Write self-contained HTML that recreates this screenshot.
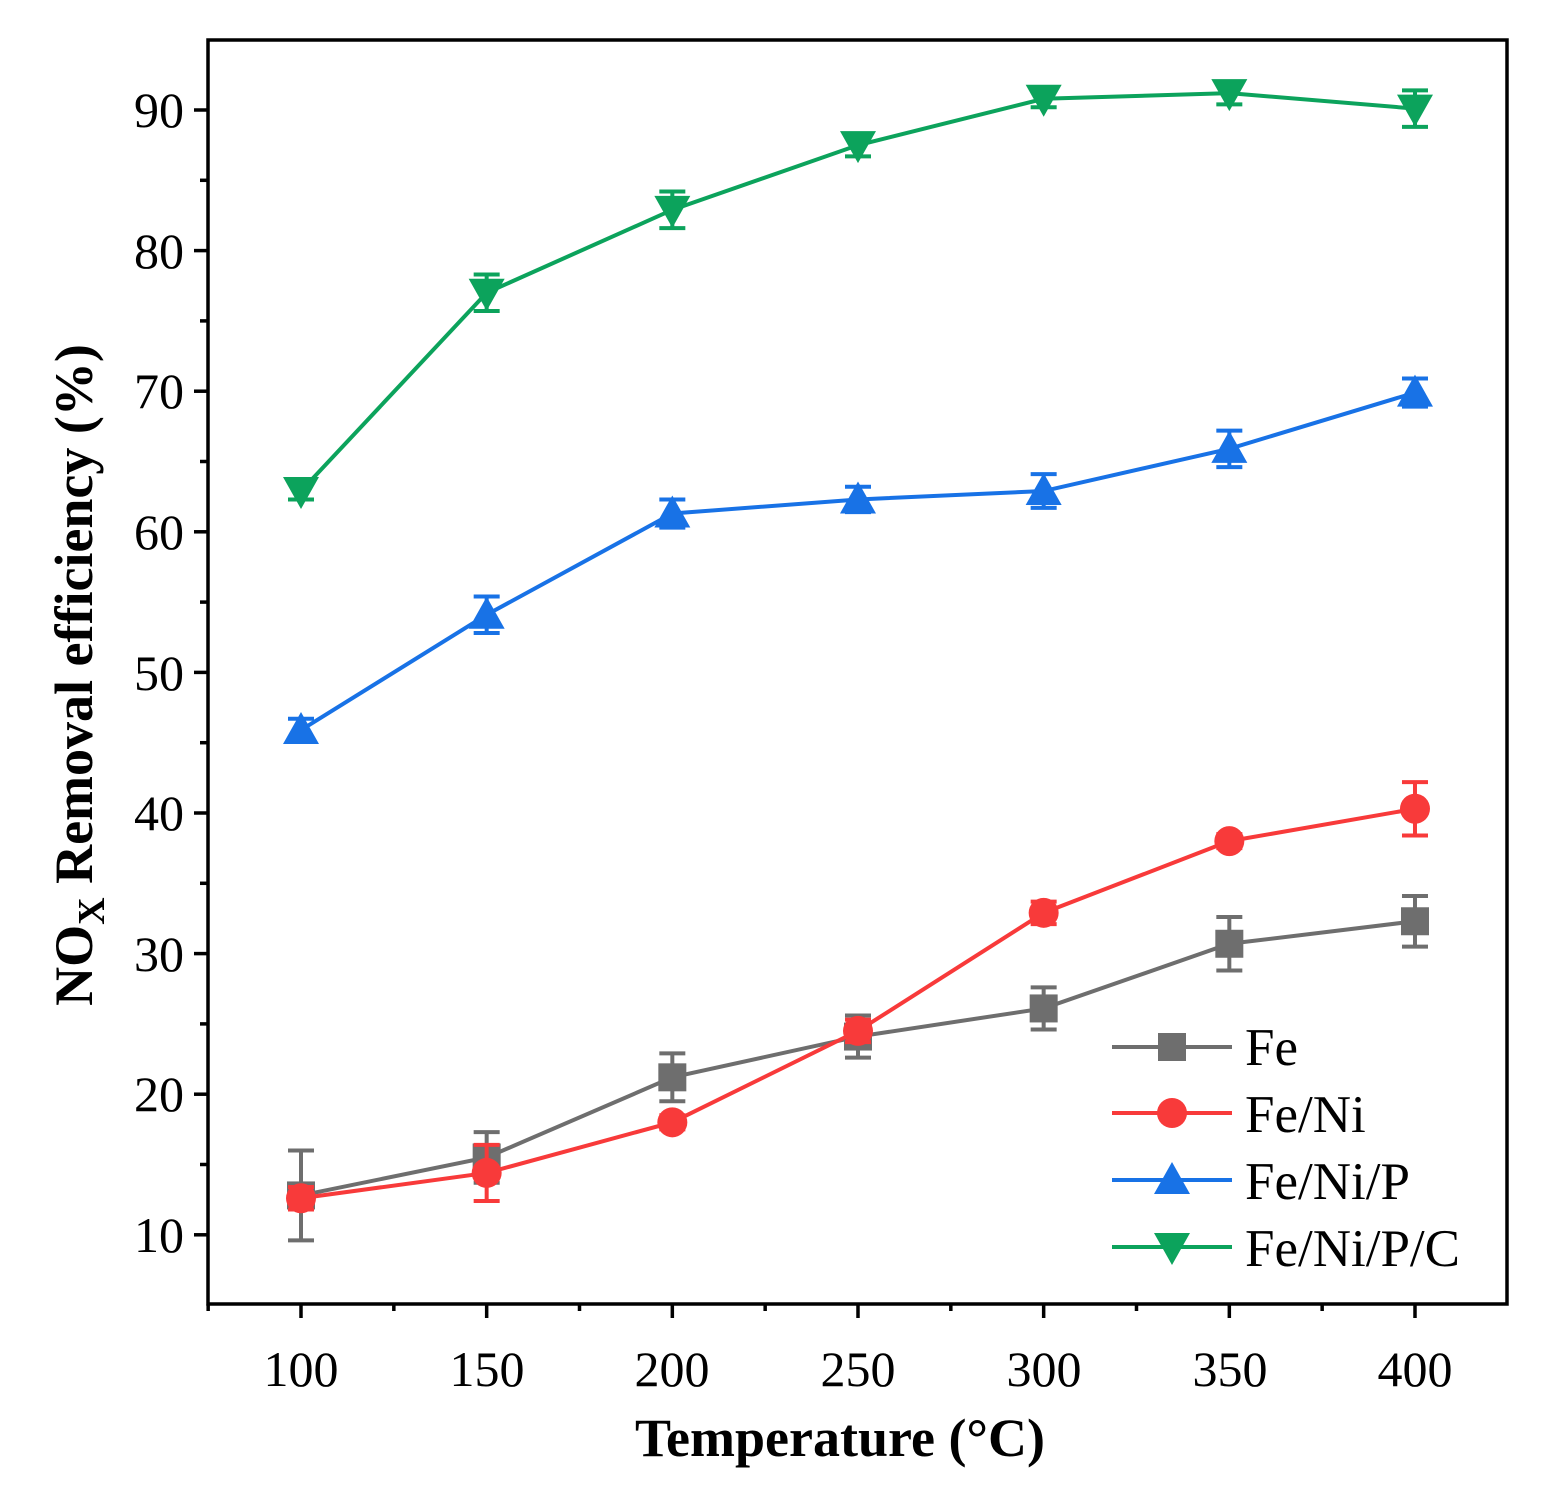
<!DOCTYPE html>
<html><head><meta charset="utf-8"><style>
html,body{margin:0;padding:0;background:#fff;}
svg{display:block;font-family:"Liberation Serif",serif;}
</style></head><body>
<svg id="s" width="1546" height="1501" viewBox="0 0 1546 1501" xmlns="http://www.w3.org/2000/svg">
<rect x="0" y="0" width="1546" height="1501" fill="#fff"/>
<g id="ticks" stroke="#000" stroke-width="3.5"></g>
<g font-size="50" fill="#000">
<text x="184" y="127" text-anchor="end">90</text>
<text x="184" y="268" text-anchor="end">80</text>
<text x="184" y="408" text-anchor="end">70</text>
<text x="184" y="549" text-anchor="end">60</text>
<text x="184" y="690" text-anchor="end">50</text>
<text x="184" y="830" text-anchor="end">40</text>
<text x="184" y="971" text-anchor="end">30</text>
<text x="184" y="1111" text-anchor="end">20</text>
<text x="184" y="1252" text-anchor="end">10</text>
<text x="301" y="1386" text-anchor="middle">100</text>
<text x="487" y="1386" text-anchor="middle">150</text>
<text x="672" y="1386" text-anchor="middle">200</text>
<text x="858" y="1386" text-anchor="middle">250</text>
<text x="1044" y="1386" text-anchor="middle">300</text>
<text x="1230" y="1386" text-anchor="middle">350</text>
<text x="1415" y="1386" text-anchor="middle">400</text>
</g>
<text x="840" y="1456" text-anchor="middle" font-size="54" font-weight="bold">Temperature (°C)</text>
<text transform="translate(92,675) rotate(-90)" text-anchor="middle" font-size="54" font-weight="bold">NO<tspan font-size="38" dy="12">X</tspan><tspan dy="-12"> Removal efficiency (%)</tspan></text>
<g id="data"></g>
<g font-size="53" fill="#000">
<text x="1245" y="1065">Fe</text>
<text x="1245" y="1132">Fe/Ni</text>
<text x="1245" y="1199">Fe/Ni/P</text>
<text x="1245" y="1266">Fe/Ni/P/C</text>
</g>
<rect x="208" y="40" width="1299" height="1264" fill="none" stroke="#000" stroke-width="3.5"/>
</svg>
<script>
var NS="http://www.w3.org/2000/svg";
function el(p,t,a){var e=document.createElementNS(NS,t);for(var k in a)e.setAttribute(k,a[k]);p.appendChild(e);return e;}
var X=function(t){return 301+(t-100)*3.7133;}, Y=function(v){return 110+(90-v)*14.06;};
var tk=document.getElementById("ticks");
for(var v=10;v<=90;v+=5){var y=Y(v);el(tk,"line",{x1:v%10==0?194:200,x2:208,y1:y,y2:y});}
for(var t=75;t<=425;t+=25){var x=X(t);if(x<208||x>1507)continue;el(tk,"line",{x1:x,x2:x,y1:1304,y2:t%50==0?1318:1311});}
var S=[
{c:"#6e6e6e",m:"sq",d:[[12.8,3.2],[15.5,1.8],[21.2,1.7],[24.1,1.5],[26.1,1.5],[30.7,1.9],[32.3,1.8]]},
{c:"#f83a3a",m:"ci",d:[[12.6,0.8],[14.4,2],[18,0.5],[24.5,0.8],[32.9,0.8],[38,0.5],[40.3,1.9]]},
{c:"#1872e6",m:"up",d:[[45.9,0.8],[54.1,1.3],[61.3,1],[62.3,0.9],[62.9,1.2],[65.9,1.3],[69.9,1]]},
{c:"#0ca35c",m:"dn",d:[[62.9,0.6],[77,1.3],[82.9,1.3],[87.5,0.8],[90.8,0.6],[91.2,0.8],[90.1,1.3]]}];
var g=document.getElementById("data");
function mk(m,x,y,c){
 if(m=="sq")el(g,"rect",{x:x-14,y:y-14,width:28,height:28,fill:c});
 else if(m=="ci")el(g,"circle",{cx:x,cy:y,r:15,fill:c});
 else if(m=="up")el(g,"polygon",{points:(x-18)+","+(y+14)+" "+(x+18)+","+(y+14)+" "+x+","+(y-18),fill:c});
 else el(g,"polygon",{points:(x-18)+","+(y-14)+" "+(x+18)+","+(y-14)+" "+x+","+(y+18),fill:c});
}
S.forEach(function(s){
 var pts=s.d.map(function(d,i){return X(100+50*i)+","+Y(d[0]);}).join(" ");
 el(g,"polyline",{points:pts,fill:"none",stroke:s.c,"stroke-width":4});
 s.d.forEach(function(d,i){var x=X(100+50*i),y1=Y(d[0]+d[1]),y2=Y(d[0]-d[1]);
  el(g,"line",{x1:x,x2:x,y1:y1,y2:y2,stroke:s.c,"stroke-width":4});
  el(g,"line",{x1:x-13,x2:x+13,y1:y1,y2:y1,stroke:s.c,"stroke-width":4});
  el(g,"line",{x1:x-13,x2:x+13,y1:y2,y2:y2,stroke:s.c,"stroke-width":4});
  mk(s.m,x,Y(d[0]),s.c);});
});
var ly=[1047,1113,1180,1247];
S.forEach(function(s,i){el(g,"line",{x1:1112,x2:1232,y1:ly[i],y2:ly[i],stroke:s.c,"stroke-width":4});mk(s.m,1172,ly[i],s.c);});
</script>
</body></html>
